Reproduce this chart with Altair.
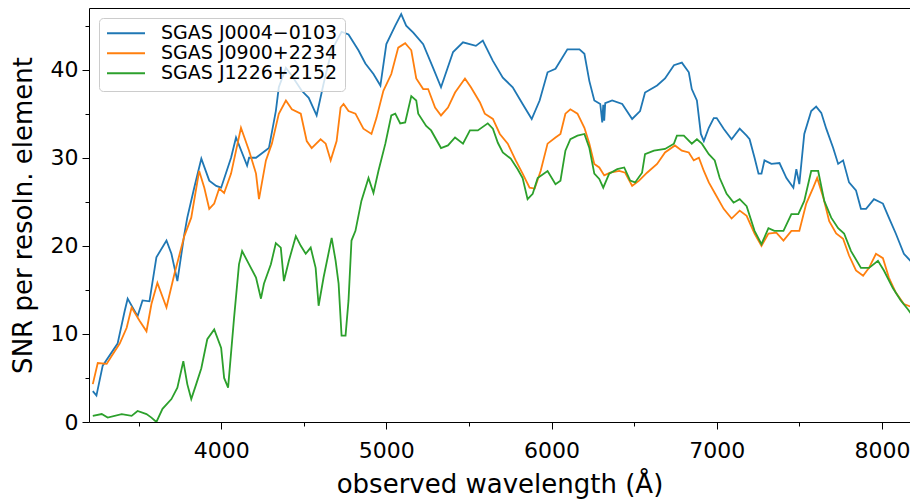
import altair as alt
import pandas as pd

names = ["SGAS J0004\u22120103", "SGAS J0900+2234", "SGAS J1226+2152"]
colors = ["#1f77b4", "#ff7f0e", "#2ca02c"]

blue_wl = [3223,3245,3283,3373,3416,3434,3494,3524,3566,3608,3669,3699,3735,3777,3795,3837,3880,3928,3970,4000,
           4060,4090,4157,4169,4211,4289,4331,4349,4392,4428,4488,4530,4578,4620,4669,4729,4771,4831,4873,4922,
           4964,5000,5054,5090,5120,5163,5223,5283,5331,5404,5464,5542,5584,5645,5705,5765,5825,5880,5928,5976,
           6024,6096,6169,6199,6229,6259,6295,6307,6313,6319,6325,6367,6428,6488,6536,6566,6639,6687,6741,6789,
           6831,6849,6880,6904,6922,6952,6982,7000,7042,7090,7139,7181,7199,7229,7253,7271,7289,7331,7380,7422,
           7464,7482,7500,7530,7572,7602,7633,7663,7705,7735,7765,7801,7843,7873,7904,7952,8006,8042,8084,8133,8187]
blue_snr = [3.5,3.0,6.4,8.9,12.6,14.0,12.0,13.8,13.7,18.7,20.6,19.1,16.0,21.3,23.2,26.6,29.9,27.4,26.8,26.6,
            30.0,32.3,29.1,30.0,30.0,31.1,35.3,38.0,40.2,39.3,37.6,36.8,34.8,38.4,42.2,44.3,44.0,42.2,40.7,39.5,
            38.2,42.9,45.0,46.3,45.0,44.2,42.9,40.2,38.0,42.0,43.1,42.7,43.3,41.0,39.1,38.0,36.1,34.4,36.5,39.7,
            40.1,42.3,42.3,41.8,38.7,36.5,36.1,34.0,36.0,34.2,36.2,36.5,36.1,34.4,35.3,37.4,38.2,39.0,40.5,40.8,
            39.7,37.8,36.5,32.7,31.9,33.4,34.5,34.5,33.3,32.1,33.3,32.5,32.1,30.0,28.2,28.2,29.7,29.3,29.4,27.7,
            26.6,28.7,27.0,32.7,35.3,35.8,35.1,33.3,31.1,29.3,29.7,27.2,26.3,24.2,24.2,25.3,24.8,23.2,21.4,19.1,18.0]

orange_wl = [3223,3253,3307,3337,3386,3428,3458,3506,3548,3578,3614,3669,3717,3777,3819,3867,3898,3928,3958,3988,
             4018,4060,4120,4169,4211,4229,4271,4307,4349,4392,4428,4482,4518,4548,4602,4633,4663,4699,4723,4741,
             4771,4813,4861,4910,4940,4982,5030,5072,5114,5151,5181,5223,5253,5295,5331,5373,5416,5476,5512,5566,
             5596,5645,5687,5735,5783,5825,5867,5898,5934,5976,6024,6054,6084,6114,6157,6199,6229,6259,6289,6319,
             6355,6410,6446,6488,6530,6578,6639,6687,6747,6789,6831,6861,6892,6922,6952,6988,7042,7090,7139,7181,
             7229,7271,7313,7361,7404,7452,7500,7542,7584,7608,7645,7681,7723,7765,7801,7843,7886,7922,7964,8006,
             8042,8084,8133,8187]
orange_snr = [4.3,6.7,6.6,7.5,8.9,10.7,13.0,11.5,10.3,13.4,15.8,13.0,16.8,21.1,23.2,28.5,26.6,24.2,24.8,26.5,
              26.0,28.2,33.4,30.8,28.2,25.3,29.7,31.6,35.0,36.5,35.5,35.0,31.9,31.1,32.1,31.6,29.7,31.9,35.7,36.1,
              35.3,35.0,33.3,32.7,34.5,37.6,39.5,42.5,43.0,42.2,39.0,37.8,37.8,35.7,34.8,35.7,37.4,39.0,38.0,36.3,
              35.0,34.4,32.7,31.6,29.7,28.2,26.6,26.5,28.5,31.6,32.3,32.7,35.0,35.5,35.0,33.4,31.6,29.3,28.9,28.0,
              28.3,28.5,28.3,26.8,27.4,28.3,29.3,30.6,31.4,30.8,30.6,29.7,30.0,28.5,27.2,26.0,24.2,23.1,24.0,23.4,
              21.4,20.0,21.4,21.5,20.6,21.7,21.7,24.8,26.6,27.7,25.5,22.8,21.4,20.8,18.9,17.2,16.6,17.5,19.1,18.6,
              16.4,14.7,13.4,13.0]

green_wl = [3223,3277,3313,3398,3458,3494,3548,3578,3608,3645,3699,3735,3771,3795,3819,3849,3880,3916,3958,4000,
            4018,4042,4078,4108,4127,4169,4211,4241,4259,4301,4331,4361,4380,4410,4452,4482,4512,4542,4572,4590,
            4620,4669,4693,4711,4729,4753,4771,4789,4813,4849,4892,4922,4952,4994,5030,5054,5084,5114,5151,5181,
            5193,5241,5271,5331,5373,5416,5464,5506,5554,5614,5645,5675,5705,5753,5795,5825,5855,5886,5916,5976,
            6024,6054,6084,6114,6157,6199,6229,6259,6289,6313,6349,6398,6440,6476,6506,6548,6566,6620,6687,6741,
            6759,6801,6849,6880,6910,6952,6988,7018,7060,7102,7139,7181,7229,7271,7313,7349,7404,7452,7494,7530,
            7572,7614,7651,7693,7735,7771,7813,7873,7922,7976,8012,8066,8114,8157,8187]
green_snr = [0.7,0.9,0.5,0.9,0.7,1.25,0.9,0.5,0.0,1.5,2.6,3.9,6.9,4.3,2.6,4.3,6.1,9.4,10.5,8.4,
             5.0,3.9,11.8,17.9,19.4,17.9,16.4,14.0,15.7,17.9,20.3,19.8,16.0,18.3,21.1,20.0,19.1,19.8,17.5,13.2,
             16.4,20.9,18.3,15.7,9.8,9.8,13.8,20.6,21.7,25.1,27.7,26.0,28.5,31.6,34.8,35.0,33.9,34.0,37.0,36.5,
             35.0,33.6,33.1,31.1,31.4,32.3,31.6,33.1,33.1,33.9,33.3,31.7,30.6,29.9,28.7,27.7,25.3,25.9,27.7,28.5,
             27.0,27.4,30.8,32.1,32.5,32.7,31.1,28.2,27.6,26.6,28.2,28.7,28.9,27.4,27.2,28.3,30.4,30.8,31.0,31.6,
             32.5,32.5,31.6,32.1,31.6,30.4,29.7,27.7,25.9,24.9,25.3,24.5,21.7,20.2,22.0,21.7,21.7,23.6,23.6,25.1,
             28.5,28.5,25.1,23.2,22.0,21.4,19.4,17.5,17.5,18.3,17.2,15.2,13.8,12.8,12.0]

x_ticks = [3500, 4000, 4500, 5000, 5500, 6000, 6500, 7000, 7500, 8000]
y_ticks = [0, 5, 10, 15, 20, 25, 30, 35, 40, 45]

frames = []
for name, wl, snr in [(names[0], blue_wl, blue_snr), (names[1], orange_wl, orange_snr), (names[2], green_wl, green_snr)]:
    frames.append(pd.DataFrame({"wavelength": wl, "snr": snr, "object": name}))
df = pd.concat(frames, ignore_index=True)

FONT = "DejaVu Sans"

xaxis = alt.Axis(
    values=x_ticks, format="d",
    labelExpr="datum.value % 1000 === 0 ? datum.label : ''",
    tickSize={"condition": {"test": "datum.value % 1000 === 0", "value": 7}, "value": 4},
    title="observed wavelength (\u00c5)", grid=False,
    labelFont=FONT, labelFontSize=22, titleFont=FONT, titleFontSize=26, titleFontWeight="normal",
    domainColor="black", tickColor="black", labelColor="black", titleColor="black",
    labelPadding=11, titlePadding=10, labelFlush=False, labelOverlap=False,
)
yaxis = alt.Axis(
    values=y_ticks, format="d",
    labelExpr="datum.value % 10 === 0 ? datum.label : ''",
    tickSize={"condition": {"test": "datum.value % 10 === 0", "value": 7}, "value": 4},
    title="SNR per resoln. element", grid=False,
    labelFont=FONT, labelFontSize=22, titleFont=FONT, titleFontSize=26, titleFontWeight="normal",
    domainColor="black", tickColor="black", labelColor="black", titleColor="black",
    labelPadding=4, titlePadding=14, labelFlush=False, labelOverlap=False,
)

legend = alt.Legend(
    title=None, orient="none", legendX=10, legendY=10,
    symbolType="stroke", symbolSize=1444, symbolStrokeWidth=1.8,
    labelFont=FONT, labelFontSize=19, labelColor="black", labelOffset=15, labelLimit=400,
    clipHeight=16.5, rowPadding=0, padding=7, strokeColor="#cccccc",
    fillColor="rgba(255,255,255,0.8)", cornerRadius=4,
)

lines = alt.Chart(df).mark_line(strokeWidth=1.8, clip=True).encode(
    x=alt.X("wavelength:Q", scale=alt.Scale(domain=[3200, 8170], nice=False, zero=False), axis=xaxis),
    y=alt.Y("snr:Q", scale=alt.Scale(domain=[0, 47], nice=False), axis=yaxis),
    color=alt.Color("object:N", scale=alt.Scale(domain=names, range=colors), legend=legend),
)

top = alt.Chart(df).mark_point(opacity=0).encode(
    x=alt.X("wavelength:Q", axis=alt.Axis(orient="top", labels=False, ticks=False, title=None,
                                          grid=False, domainColor="black")),
)

chart = alt.layer(lines, top).resolve_axis(x="independent").properties(
    width=821, height=414,
    autosize=alt.AutoSizeParams(type="none"),
    padding={"left": 81, "top": 0, "right": 0, "bottom": 82},
).configure_view(strokeWidth=0)

chart.save("out.html", embed_options={"renderer": "svg", "actions": False})
